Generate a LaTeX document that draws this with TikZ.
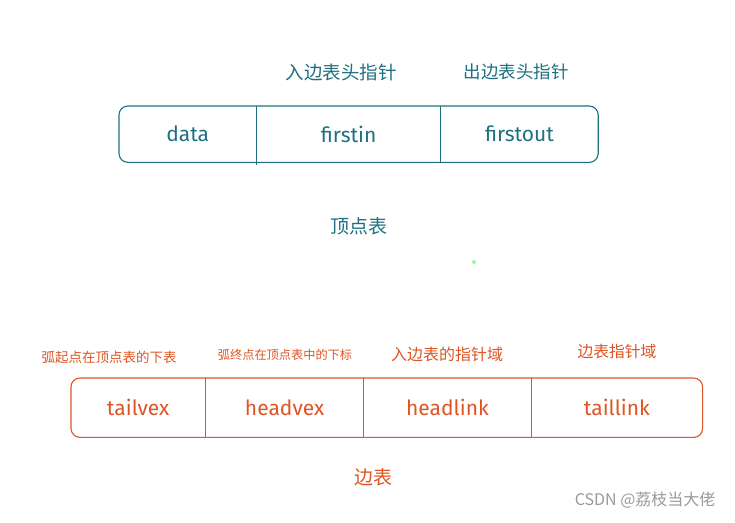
\documentclass[tikz,border=0pt]{standalone}
\usepackage{fontspec}
\setmainfont{Fira Sans}
\newfontfamily\cjk{Noto Sans CJK SC}
\usepackage{xcolor}
\usepackage{tikz}
\usetikzlibrary{positioning,fit}

\definecolor{vexteal}{RGB}{28,112,128}
\definecolor{arcorange}{RGB}{222,84,34}

\tikzset{
  cell/.style={minimum height=56, inner sep=0pt, anchor=north west, font=\fontsize{21}{21}\selectfont},
  frame/.style={draw, rounded corners=9pt, line width=1.1pt, inner sep=0pt},
  divider/.style={line width=1.1pt},
  caption/.style={font=\cjk\fontsize{#1}{#1}\selectfont}
}

\begin{document}
\begin{tikzpicture}[x=1pt,y=-1pt]
  \useasboundingbox (0,0) rectangle (735,522);

  % vertex table
  \begin{scope}[vexteal]
    \node[cell, minimum width=137] (data) at (119,106) {data};
    \node[cell, minimum width=184, right=0pt of data] (firstin) {firstin};
    \node[cell, minimum width=157, right=0pt of firstin] (firstout) {firstout};
    \node[frame, fit=(data)(firstout)] (vexbox) {};
    \draw[divider] (data.north east) -- ([yshift=-3]data.south east);
    \draw[divider] (firstin.north east) -- (firstin.south east);
    \node[caption=18.5] (inhead) at (341,72) {入边表头指针};
    \node[caption=17.5] (outhead) at (516,72) {出边表头指针};
    \node[caption=19] (vexname) at (359,226) {顶点表};
  \end{scope}

  \fill[green!45] (474,262) circle (2);

  % arc (edge) table
  \begin{scope}[arcorange]
    \node[cell, minimum width=134, minimum height=59, anchor=north west] (tailvex) at (71,378) {tailvex};
    \node[cell, minimum width=158, minimum height=59, right=0pt of tailvex] (headvex) {headvex};
    \node[cell, minimum width=167, minimum height=59, right=0pt of headvex] (headlink) {headlink};
    \node[cell, minimum width=171, minimum height=59, right=0pt of headlink] (taillink) {taillink};
    \node[frame, fit=(tailvex)(taillink)] (arcbox) {};
    \foreach \c in {tailvex,headvex,headlink}
      \draw[divider] (\c.north east) -- (\c.south east);
    \node[caption=13.5] (tailcap) at (109,357) {弧起点在顶点表的下表};
    \node[caption=12.2] (headcap) at (285,355) {弧终点在顶点表中的下标};
    \node[caption=16] (hlinkcap) at (447,354) {入边表的指针域};
    \node[caption=15.8] (tlinkcap) at (617,352) {边表指针域};
    \node[caption=19] (arcname) at (373,477) {边表};
  \end{scope}

  \node[caption=16, gray!80, anchor=east] (mark) at (719,500) {CSDN\ @荔枝当大佬};
\end{tikzpicture}
\end{document}
